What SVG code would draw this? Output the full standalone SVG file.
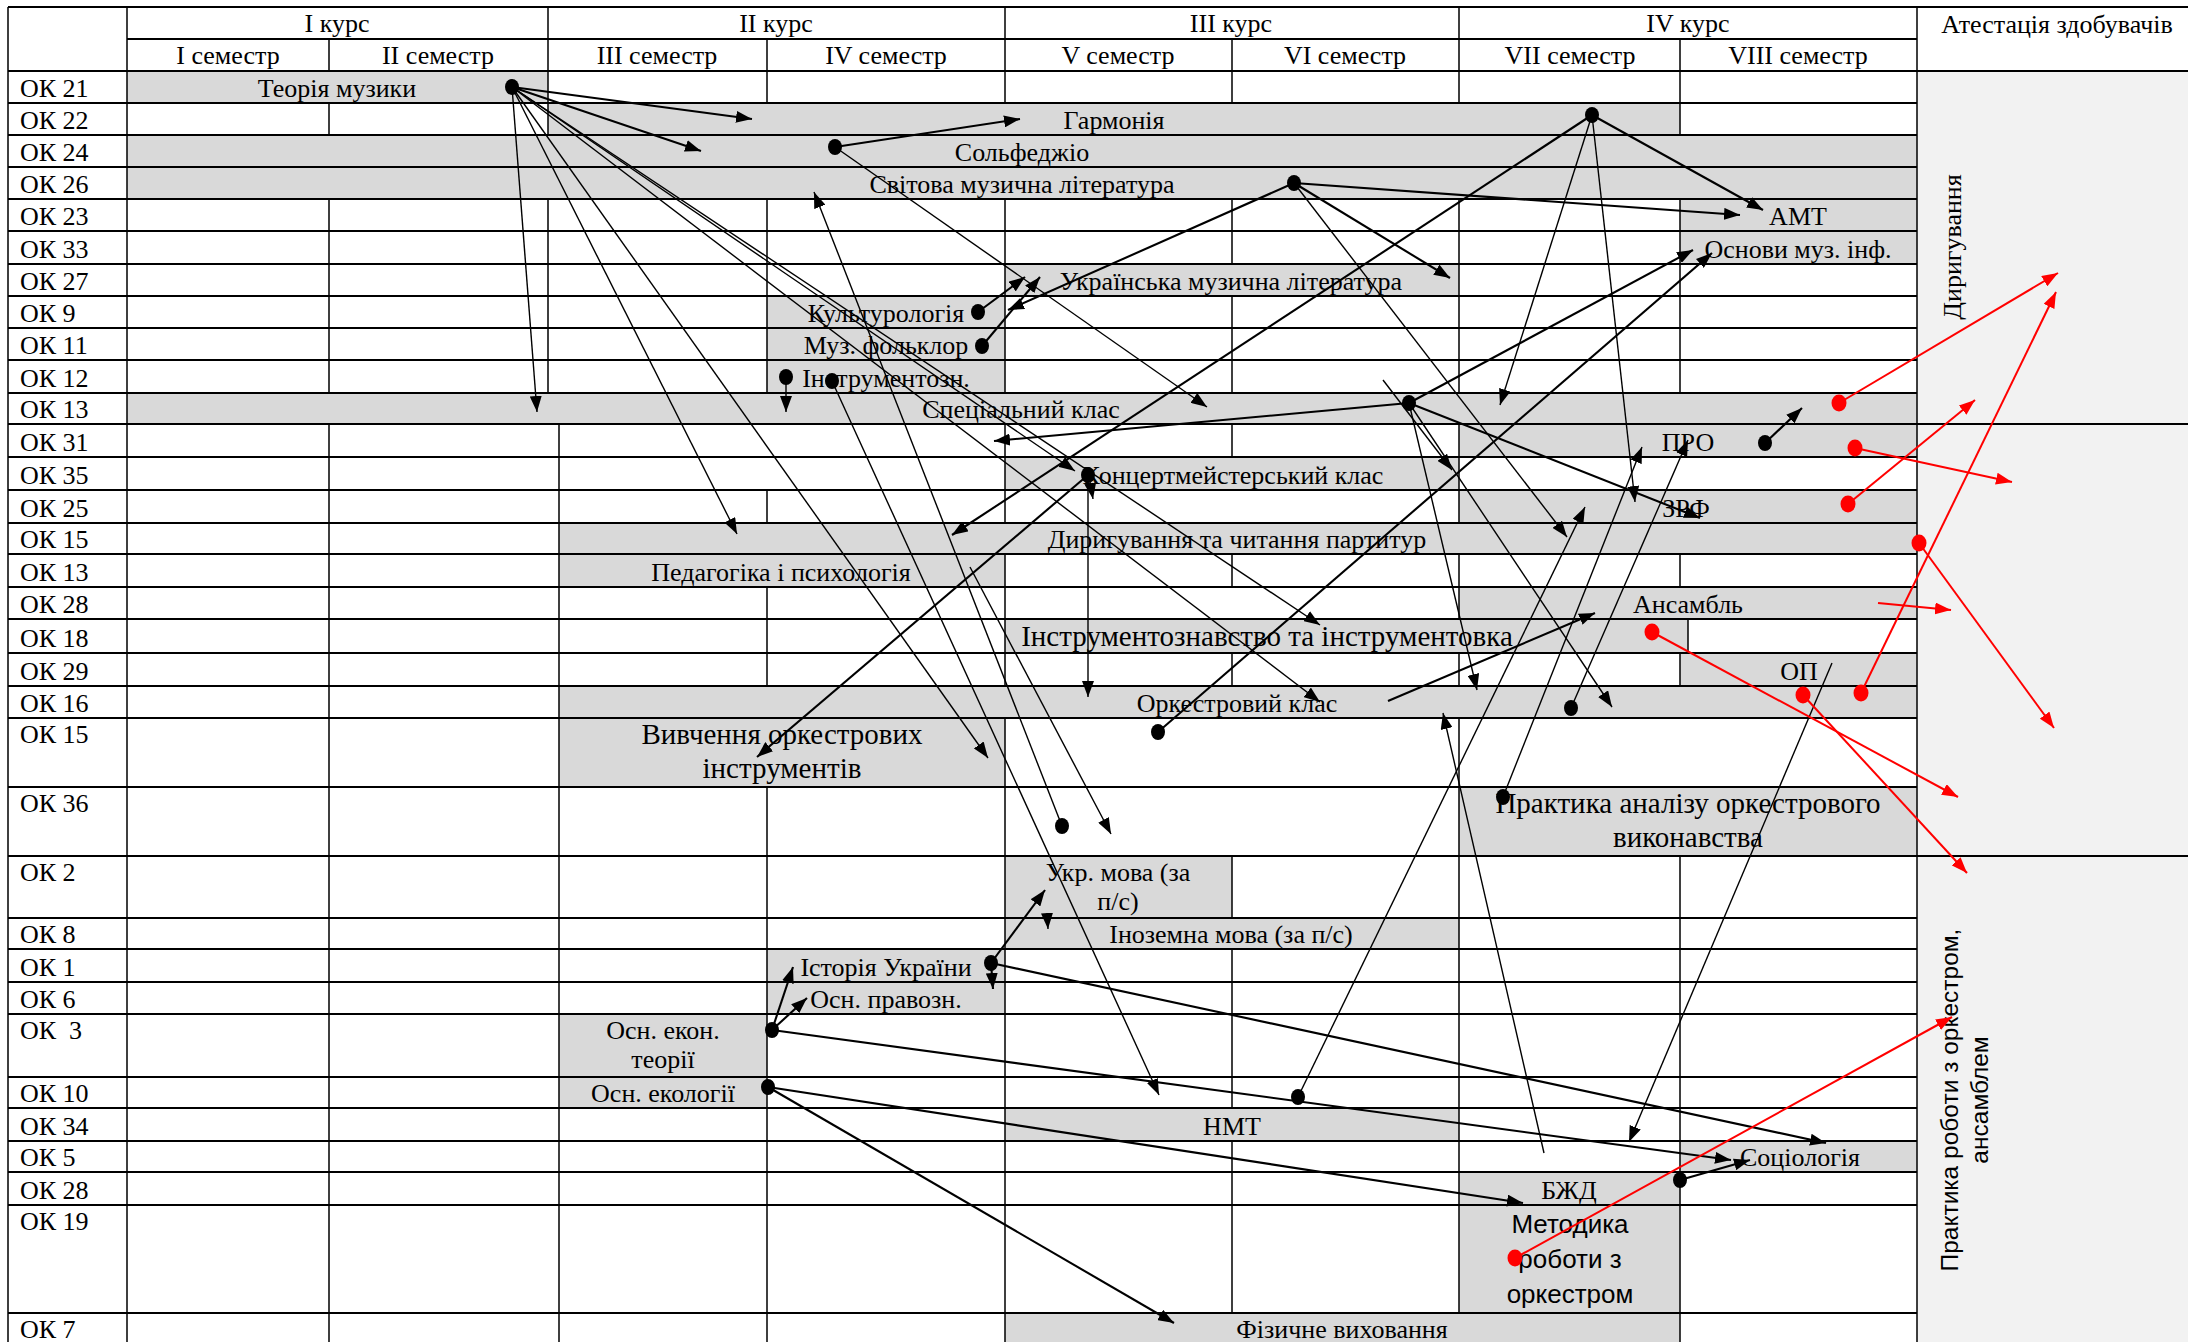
<svg xmlns="http://www.w3.org/2000/svg" width="2188" height="1342" viewBox="0 0 2188 1342">
<style>
.bar{fill:#d9d9d9}
text{font-family:"Liberation Serif","Times New Roman",serif;font-size:26px;fill:#000}
.c{text-anchor:middle}
.big{font-size:29px}
.sans{font-family:"Liberation Sans",Arial,sans-serif}
.hl{stroke:#000;stroke-width:2;fill:none}
.vl{stroke:#000;stroke-width:1.5;fill:none}
.blk line{stroke:#000;stroke-width:2.1;marker-end:url(#ah)}
.blk line.t{stroke-width:1.4}
.red line{stroke:#f00;stroke-width:2;marker-end:url(#ahr)}
.dot{fill:#000}
.rdot{fill:#f00}
</style>
<defs>
<marker id="ah" viewBox="0 0 16 12" refX="16" refY="6" markerWidth="16" markerHeight="12" markerUnits="userSpaceOnUse" orient="auto"><path d="M0,0 L16,6 L0,12 Z" fill="#000"/></marker>
<marker id="ahr" viewBox="0 0 16 12" refX="16" refY="6" markerWidth="16" markerHeight="12" markerUnits="userSpaceOnUse" orient="auto"><path d="M0,0 L16,6 L0,12 Z" fill="#f00"/></marker>
</defs>
<rect x="0" y="0" width="2188" height="1342" fill="#fff"/>
<rect x="1917" y="71" width="271" height="1271" fill="#f2f2f2"/>

<g id="nodes">
<g id="n-ok21"><rect class="bar" x="127" y="71" width="421" height="32"/><text class="c" x="337" y="97">Теорія музики</text></g>
<g id="n-ok22"><rect class="bar" x="548" y="103" width="1132" height="32"/><text class="c" x="1114" y="129">Гармонія</text></g>
<g id="n-ok24"><rect class="bar" x="127" y="135" width="1790" height="32"/><text class="c" x="1022" y="161">Сольфеджіо</text></g>
<g id="n-ok26"><rect class="bar" x="127" y="167" width="1790" height="32"/><text class="c" x="1022" y="193">Світова музична література</text></g>
<g id="n-ok23"><rect class="bar" x="1680" y="199" width="237" height="32"/><text class="c" x="1798" y="225">АМТ</text></g>
<g id="n-ok33"><rect class="bar" x="1680" y="231" width="237" height="33"/><text class="c" x="1798" y="258">Основи муз. інф.</text></g>
<g id="n-ok27"><rect class="bar" x="1005" y="264" width="454" height="32"/><text class="c" x="1231" y="290">Українська музична література</text></g>
<g id="n-ok9"><rect class="bar" x="767" y="296" width="238" height="32"/><text class="c" x="886" y="322">Культурологія</text></g>
<g id="n-ok11"><rect class="bar" x="767" y="328" width="238" height="32"/><text class="c" x="886" y="354">Муз. фольклор</text></g>
<g id="n-ok12"><rect class="bar" x="767" y="360" width="238" height="33"/><text class="c" x="886" y="387">Інструментозн.</text></g>
<g id="n-ok13"><rect class="bar" x="127" y="393" width="1790" height="31"/><text class="c" x="1021" y="418">Спеціальний клас</text></g>
<g id="n-ok31"><rect class="bar" x="1459" y="424" width="458" height="33"/><text class="c" x="1688" y="451">ПРО</text></g>
<g id="n-ok35"><rect class="bar" x="1005" y="457" width="454" height="33"/><text class="c" x="1233" y="484">Концертмейстерський клас</text></g>
<g id="n-ok25"><rect class="bar" x="1459" y="490" width="458" height="33"/><text class="c" x="1686" y="517">ЗРФ</text></g>
<g id="n-ok15a"><rect class="bar" x="559" y="523" width="1358" height="31"/><text class="c" x="1237" y="548">Диригування та читання партитур</text></g>
<g id="n-ok13b"><rect class="bar" x="559" y="554" width="446" height="33"/><text class="c" x="781" y="581">Педагогіка і психологія</text></g>
<g id="n-ok28a"><rect class="bar" x="1459" y="587" width="458" height="32"/><text class="c" x="1688" y="613">Ансамбль</text></g>
<g id="n-ok18"><rect class="bar" x="1005" y="619" width="683" height="34"/><text class="c big" x="1267" y="646">Інструментознавство та інструментовка</text></g>
<g id="n-ok29"><rect class="bar" x="1680" y="653" width="237" height="33"/><text class="c" x="1799" y="680">ОП</text></g>
<g id="n-ok16"><rect class="bar" x="559" y="686" width="1358" height="32"/><text class="c" x="1237" y="712">Оркестровий клас</text></g>
<g id="n-ok15b"><rect class="bar" x="559" y="718" width="446" height="69"/><text class="c big" x="782" y="744">Вивчення оркестрових</text><text class="c big" x="782" y="778">інструментів</text></g>
<g id="n-ok36"><rect class="bar" x="1459" y="787" width="458" height="69"/><text class="c big" x="1688" y="813">Практика аналізу оркестрового</text><text class="c big" x="1688" y="847">виконавства</text></g>
<g id="n-ok2"><rect class="bar" x="1005" y="856" width="227" height="62"/><text class="c" x="1118" y="881">Укр. мова (за</text><text class="c" x="1118" y="910">п/с)</text></g>
<g id="n-ok8"><rect class="bar" x="1005" y="918" width="454" height="31"/><text class="c" x="1231" y="943">Іноземна мова (за п/с)</text></g>
<g id="n-ok1"><rect class="bar" x="767" y="949" width="238" height="33"/><text class="c" x="886" y="976">Історія України</text></g>
<g id="n-ok6"><rect class="bar" x="767" y="982" width="238" height="32"/><text class="c" x="886" y="1008">Осн. правозн.</text></g>
<g id="n-ok3"><rect class="bar" x="559" y="1014" width="208" height="63"/><text class="c" x="663" y="1039">Осн. екон.</text><text class="c" x="663" y="1068">теорії</text></g>
<g id="n-ok10"><rect class="bar" x="559" y="1077" width="208" height="31"/><text class="c" x="663" y="1102">Осн. екології</text></g>
<g id="n-ok34"><rect class="bar" x="1005" y="1108" width="454" height="33"/><text class="c" x="1232" y="1135">НМТ</text></g>
<g id="n-ok5"><rect class="bar" x="1680" y="1141" width="237" height="31"/><text class="c" x="1800" y="1166">Соціологія</text></g>
<g id="n-ok28b"><rect class="bar" x="1459" y="1172" width="221" height="33"/><text class="c" x="1569" y="1199">БЖД</text></g>
<g id="n-ok19"><rect class="bar" x="1459" y="1205" width="221" height="108"/><text class="c sans" x="1570" y="1233">Методика</text><text class="c sans" x="1570" y="1268">роботи з</text><text class="c sans" x="1570" y="1303">оркестром</text></g>
<g id="n-ok7"><rect class="bar" x="1005" y="1313" width="675" height="29"/><text class="c" x="1342" y="1338">Фізичне виховання</text></g>
</g>

<g id="grid">
<path class="hl" d="M8 7H2188M127 39H1917M8 71H2188M8 103H1917M8 135H1917M8 167H1917M8 199H1917M8 231H1917M8 264H1917M8 296H1917M8 328H1917M8 360H1917M8 393H1917M8 424H2188M8 457H1917M8 490H1917M8 523H1917M8 554H1917M8 587H1917M8 619H1917M8 653H1917M8 686H1917M8 718H1917M8 787H1917M8 856H2188M8 918H1917M8 949H1917M8 982H1917M8 1014H1917M8 1077H1917M8 1108H1917M8 1141H1917M8 1172H1917M8 1205H1917M8 1313H1917"/>
<path class="vl" d="M8 7V1342M127 7V1342M1917 7V1342
M548 7V39M1005 7V39M1459 7V39
M329 39V71M548 39V71M767 39V71M1005 39V71M1232 39V71M1459 39V71M1680 39V71
M548 71V103M767 71V103M1005 71V103M1232 71V103M1459 71V103M1680 71V103
M329 103V135M548 103V135M1680 103V135
M329 199V264M548 199V264M767 199V264M1005 199V264M1232 199V264M1459 199V264M1680 199V264
M329 264V296M548 264V296M767 264V296M1005 264V296M1459 264V296M1680 264V296
M329 296V393M548 296V393M767 296V393M1005 296V393M1232 296V393M1459 296V393M1680 296V393
M329 424V457M559 424V457M1005 424V457M1232 424V457M1459 424V457
M329 457V490M559 457V490M1005 457V490M1459 457V490
M329 490V523M559 490V523M767 490V523M1005 490V523M1459 490V523
M329 523V554M559 523V554
M329 554V587M559 554V587M1005 554V587M1232 554V587M1459 554V587M1680 554V587
M329 587V619M559 587V619M767 587V619M1005 587V619M1459 587V619
M329 619V653M559 619V653M767 619V653M1005 619V653M1688 619V653
M329 653V686M559 653V686M767 653V686M1005 653V686M1232 653V686M1459 653V686M1680 653V686
M329 686V718M559 686V718
M329 718V787M559 718V787M1005 718V787M1459 718V787
M329 787V856M559 787V856M767 787V856M1005 787V856M1459 787V856
M329 856V918M559 856V918M767 856V918M1005 856V918M1232 856V918M1459 856V918M1680 856V918
M329 918V949M559 918V949M767 918V949M1005 918V949M1459 918V949M1680 918V949
M329 949V1108M559 949V1108M767 949V1108M1005 949V1108M1232 949V1108M1459 949V1108M1680 949V1108
M329 1108V1141M559 1108V1141M767 1108V1141M1005 1108V1141M1459 1108V1141M1680 1108V1141
M329 1141V1313M559 1141V1313M767 1141V1313M1005 1141V1313M1232 1141V1313M1459 1141V1313M1680 1141V1313
M329 1313V1342M559 1313V1342M767 1313V1342M1005 1313V1342M1680 1313V1342"/>
</g>

<g id="header">
<text class="c" x="337" y="32">I курс</text>
<text class="c" x="776" y="32">II курс</text>
<text class="c" x="1231" y="32">III курс</text>
<text class="c" x="1688" y="32">IV курс</text>
<text class="c" x="228" y="64">I семестр</text>
<text class="c" x="438" y="64">II семестр</text>
<text class="c" x="657" y="64">III семестр</text>
<text class="c" x="886" y="64">IV семестр</text>
<text class="c" x="1118" y="64">V семестр</text>
<text class="c" x="1345" y="64">VI семестр</text>
<text class="c" x="1570" y="64">VII семестр</text>
<text class="c" x="1798" y="64">VIII семестр</text>
<text class="c" x="2057" y="33">Атестація здобувачів</text>
</g>

<g id="row-labels">
<text x="20" y="97">ОК 21</text>
<text x="20" y="129">ОК 22</text>
<text x="20" y="161">ОК 24</text>
<text x="20" y="193">ОК 26</text>
<text x="20" y="225">ОК 23</text>
<text x="20" y="258">ОК 33</text>
<text x="20" y="290">ОК 27</text>
<text x="20" y="322">ОК 9</text>
<text x="20" y="354">ОК 11</text>
<text x="20" y="387">ОК 12</text>
<text x="20" y="418">ОК 13</text>
<text x="20" y="451">ОК 31</text>
<text x="20" y="484">ОК 35</text>
<text x="20" y="517">ОК 25</text>
<text x="20" y="548">ОК 15</text>
<text x="20" y="581">ОК 13</text>
<text x="20" y="613">ОК 28</text>
<text x="20" y="647">ОК 18</text>
<text x="20" y="680">ОК 29</text>
<text x="20" y="712">ОК 16</text>
<text x="20" y="743">ОК 15</text>
<text x="20" y="812">ОК 36</text>
<text x="20" y="881">ОК 2</text>
<text x="20" y="943">ОК 8</text>
<text x="20" y="976">ОК 1</text>
<text x="20" y="1008">ОК 6</text>
<text x="20" y="1039" xml:space="preserve">ОК  3</text>
<text x="20" y="1102">ОК 10</text>
<text x="20" y="1135">ОК 34</text>
<text x="20" y="1166">ОК 5</text>
<text x="20" y="1199">ОК 28</text>
<text x="20" y="1230">ОК 19</text>
<text x="20" y="1338">ОК 7</text>
</g>

<g id="attestation">
<text class="c" transform="translate(1961,247) rotate(-90)">Диригування</text>
<text class="c sans" style="font-size:24.5px" transform="translate(1958,1100) rotate(-90)">Практика роботи з оркестром,</text>
<text class="c sans" style="font-size:24.5px" transform="translate(1988,1100) rotate(-90)">ансамблем</text>
</g>

<g id="connectors">
<g class="blk">
<line x1="512" y1="87" x2="752" y2="119"/>
<line x1="512" y1="87" x2="701" y2="151"/>
<line class="t" x1="512" y1="87" x2="537" y2="412"/>
<line class="t" x1="512" y1="87" x2="737" y2="534"/>
<line class="t" x1="512" y1="87" x2="988" y2="758"/>
<line class="t" x1="512" y1="87" x2="1075" y2="471"/>
<line class="t" x1="512" y1="87" x2="1320" y2="625"/>
<line class="t" x1="512" y1="87" x2="1320" y2="702"/>
<line x1="835" y1="147" x2="1020" y2="119"/>
<line class="t" x1="835" y1="147" x2="1207" y2="407"/>
<line x1="1294" y1="183" x2="1740" y2="215"/>
<line x1="1294" y1="183" x2="1450" y2="278"/>
<line x1="1294" y1="183" x2="1008" y2="310"/>
<line class="t" x1="1294" y1="183" x2="1567" y2="537"/>
<line x1="1592" y1="115" x2="1763" y2="210"/>
<line class="t" x1="1592" y1="115" x2="1500" y2="405"/>
<line class="t" x1="1592" y1="115" x2="1635" y2="502"/>
<line x1="1592" y1="115" x2="952" y2="535"/>
<line x1="978" y1="312" x2="1025" y2="277"/>
<line x1="982" y1="346" x2="1040" y2="277"/>
<line class="t" x1="786" y1="377" x2="786" y2="412"/>
<line class="t" x1="832" y1="381" x2="1159" y2="1095"/>
<line class="t" x1="1062" y1="826" x2="814" y2="192"/>
<line class="t" x1="970" y1="567" x2="1111" y2="834"/>
<line class="t" x1="1088" y1="475" x2="1088" y2="697"/>
<line x1="1088" y1="475" x2="757" y2="757"/>
<line class="t" x1="1090" y1="482" x2="1093" y2="499"/>
<line x1="1409" y1="403" x2="994" y2="441"/>
<line x1="1409" y1="403" x2="1693" y2="250"/>
<line x1="1409" y1="403" x2="1700" y2="518"/>
<line class="t" x1="1409" y1="403" x2="1477" y2="690"/>
<line class="t" x1="1409" y1="403" x2="1612" y2="707"/>
<line class="t" x1="1383" y1="380" x2="1452" y2="470"/>
<line x1="1158" y1="732" x2="1712" y2="253"/>
<line class="t" x1="1571" y1="708" x2="1688" y2="440"/>
<line class="t" x1="1503" y1="797" x2="1642" y2="447"/>
<line class="t" x1="1298" y1="1097" x2="1585" y2="507"/>
<line x1="1388" y1="701" x2="1595" y2="613"/>
<line class="t" x1="1544" y1="1153" x2="1443" y2="713"/>
<line class="t" x1="1832" y1="663" x2="1629" y2="1142"/>
<line x1="1765" y1="443" x2="1802" y2="408"/>
<line x1="991" y1="963" x2="1045" y2="890"/>
<line x1="991" y1="963" x2="993" y2="989"/>
<line x1="991" y1="963" x2="1826" y2="1143"/>
<line x1="772" y1="1030" x2="793" y2="967"/>
<line x1="772" y1="1030" x2="807" y2="998"/>
<line x1="772" y1="1030" x2="1731" y2="1160"/>
<line x1="768" y1="1087" x2="1523" y2="1203"/>
<line x1="768" y1="1087" x2="1174" y2="1323"/>
<line x1="1680" y1="1180" x2="1750" y2="1160"/>
<line class="t" x1="1047" y1="913" x2="1048" y2="929"/>
</g>
<g class="dots">
<ellipse class="dot" cx="512" cy="87" rx="7" ry="8"/>
<ellipse class="dot" cx="835" cy="147" rx="7" ry="8"/>
<ellipse class="dot" cx="1294" cy="183" rx="7" ry="8"/>
<ellipse class="dot" cx="1592" cy="115" rx="7" ry="8"/>
<ellipse class="dot" cx="978" cy="312" rx="7" ry="8"/>
<ellipse class="dot" cx="982" cy="346" rx="7" ry="8"/>
<ellipse class="dot" cx="786" cy="377" rx="7" ry="8"/>
<ellipse class="dot" cx="832" cy="381" rx="7" ry="8"/>
<ellipse class="dot" cx="1062" cy="826" rx="7" ry="8"/>
<ellipse class="dot" cx="1088" cy="475" rx="7" ry="8"/>
<ellipse class="dot" cx="1409" cy="403" rx="7" ry="8"/>
<ellipse class="dot" cx="1158" cy="732" rx="7" ry="8"/>
<ellipse class="dot" cx="1571" cy="708" rx="7" ry="8"/>
<ellipse class="dot" cx="1503" cy="797" rx="7" ry="8"/>
<ellipse class="dot" cx="1298" cy="1097" rx="7" ry="8"/>
<ellipse class="dot" cx="1765" cy="443" rx="7" ry="8"/>
<ellipse class="dot" cx="991" cy="963" rx="7" ry="8"/>
<ellipse class="dot" cx="772" cy="1030" rx="7" ry="8"/>
<ellipse class="dot" cx="768" cy="1087" rx="7" ry="8"/>
<ellipse class="dot" cx="1680" cy="1180" rx="7" ry="8"/>
</g>
<g class="red">
<line x1="1839" y1="403" x2="2058" y2="273"/>
<line x1="1855" y1="448" x2="2012" y2="482"/>
<line x1="1848" y1="504" x2="1975" y2="400"/>
<line x1="1919" y1="543" x2="2054" y2="728"/>
<line x1="1878" y1="603" x2="1951" y2="610"/>
<line x1="1652" y1="632" x2="1958" y2="797"/>
<line x1="1803" y1="695" x2="1967" y2="873"/>
<line x1="1861" y1="693" x2="2056" y2="292"/>
<line x1="1515" y1="1258" x2="1952" y2="1017"/>
</g>
<g class="rdots">
<ellipse class="rdot" cx="1839" cy="403" rx="7.5" ry="8.5"/>
<ellipse class="rdot" cx="1855" cy="448" rx="7.5" ry="8.5"/>
<ellipse class="rdot" cx="1848" cy="504" rx="7.5" ry="8.5"/>
<ellipse class="rdot" cx="1919" cy="543" rx="7.5" ry="8.5"/>
<ellipse class="rdot" cx="1652" cy="632" rx="7.5" ry="8.5"/>
<ellipse class="rdot" cx="1803" cy="695" rx="7.5" ry="8.5"/>
<ellipse class="rdot" cx="1861" cy="693" rx="7.5" ry="8.5"/>
<ellipse class="rdot" cx="1515" cy="1258" rx="7.5" ry="8.5"/>
</g>
</g>
</svg>
